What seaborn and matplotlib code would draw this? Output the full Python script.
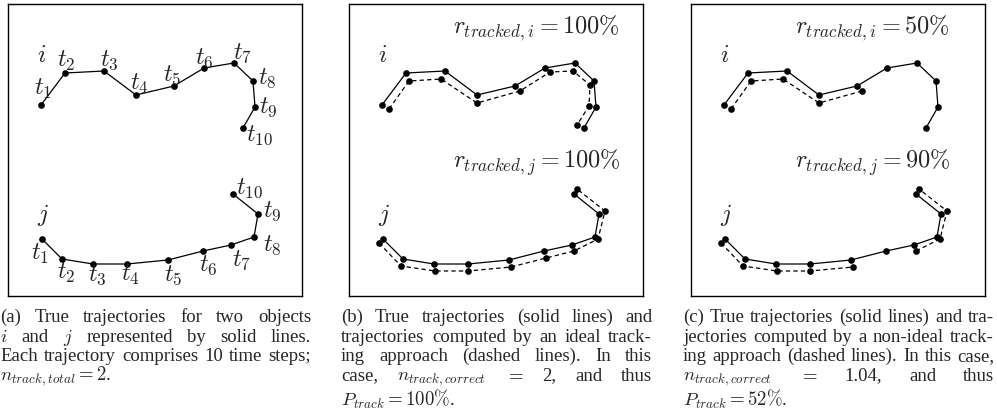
import numpy as np
import matplotlib
matplotlib.use("Agg")
import matplotlib.pyplot as plt
import seaborn as sns

# trajectory coordinates (pixels inside each box, y down)
true_i_x = [33, 57, 96, 128, 166, 196, 226, 245, 247, 235]
true_i_y = [101, 69, 67, 91, 82, 64, 59, 77, 103, 124]
true_j_x = [34, 54, 85, 119, 160, 195, 223, 246, 250, 225]
true_j_y = [235, 255, 260, 260, 256, 247, 241, 233, 210, 190]

ideal_i_x = [40, 60, 92, 128, 171, 201, 224, 241, 240, 228]
ideal_i_y = [105, 77, 75, 99, 87, 68, 67, 81, 102, 121]
ideal_j_x = [30, 52, 86, 119, 162, 197, 225, 249, 256, 228]
ideal_j_y = [239, 262, 267, 267, 263, 254, 247, 235, 207, 185]

# non-ideal tracker: i lost after t5, j misses t6
nonideal_i_x = [40, 60, 92, 128, 171, np.nan, np.nan, np.nan, np.nan, np.nan]
nonideal_i_y = [105, 77, 75, 99, 87, np.nan, np.nan, np.nan, np.nan, np.nan]
nonideal_j_x = [30, 52, 86, 119, 162, np.nan, 225, 249, 256, 228]
nonideal_j_y = [239, 262, 267, 267, 263, np.nan, 247, 235, 207, 185]

time_labels = [r'$t_{%d}$' % k for k in range(1, 11)]
label_i_pos = [(35, 85), (58, 57), (101, 56), (131, 80), (164, 71),
               (196, 54), (235, 49), (259, 74), (260, 103), (252, 131)]
label_j_pos = [(32, 250), (58, 269), (89, 271), (122, 271), (165, 271),
               (200, 261), (234, 256), (264, 241), (264, 207), (242, 184)]

rates_b = [r'$r_{tracked,i}=100\%$', r'$r_{tracked,j}=100\%$']
rates_c = [r'$r_{tracked,i}=50\%$', r'$r_{tracked,j}=90\%$']

captions = [
    ["(a) True trajectories for two objects",
     "$i$ and $j$ represented by solid lines.",
     "Each trajectory comprises 10 time steps;",
     "$n_{track,total}=2$."],
    ["(b) True trajectories (solid lines) and",
     "trajectories computed by an ideal track-",
     "ing approach (dashed lines). In this",
     "case, $n_{track,correct}$ $=$ 2, and thus",
     r"$P_{track}=100\%$."],
    ["(c) True trajectories (solid lines) and tra-",
     "jectories computed by a non-ideal track-",
     "ing approach (dashed lines). In this case,",
     "$n_{track,correct}$ $=$ 1.04, and thus",
     r"$P_{track}=52\%$."],
]

sns.set_theme(style="white")
plt.rcParams['font.family'] = ['Liberation Serif', 'DejaVu Serif']
plt.rcParams['mathtext.fontset'] = 'cm'

W, H = 997, 419
fig = plt.figure(figsize=(W / 100, H / 100), dpi=100)

box_left = [8, 349, 691]
box_w, box_h, box_top = 294, 292, 4
IN_FS = 17.5


def draw_path(ax, xs, ys, dashed=False):
    xs = np.asarray(xs, float)
    ys = np.asarray(ys, float)
    ok = ~np.isnan(xs)
    seg = np.cumsum(~ok)
    for s in np.unique(seg[ok]):
        m = ok & (seg == s)
        sns.lineplot(x=xs[m], y=ys[m], sort=False, estimator=None, ax=ax,
                     color='black', lw=0.9,
                     linestyle=(0, (3.5, 2.5)) if dashed else '-',
                     marker='o', markersize=4.8, markeredgewidth=0)


axes = []
for left in box_left:
    ax = fig.add_axes([left / W, 1 - (box_top + box_h) / H, box_w / W, box_h / H])
    ax.set_xlim(0, box_w)
    ax.set_ylim(box_h, 0)
    ax.set_xticks([])
    ax.set_yticks([])
    for sp in ax.spines.values():
        sp.set_color('black')
        sp.set_linewidth(1.0)
    axes.append(ax)

for ax in axes:
    draw_path(ax, true_i_x, true_i_y)
    draw_path(ax, true_j_x, true_j_y)
    ax.text(34, 53, '$i$', fontsize=IN_FS, ha='center', va='center')
    ax.text(35, 211, '$j$', fontsize=IN_FS, ha='center', va='center')
    ax.set_xlabel('')
    ax.set_ylabel('')

for lab, (x, y) in zip(time_labels, label_i_pos):
    axes[0].text(x, y, lab, fontsize=IN_FS, ha='center', va='center')
for lab, (x, y) in zip(time_labels, label_j_pos):
    axes[0].text(x, y, lab, fontsize=IN_FS, ha='center', va='center')

draw_path(axes[1], ideal_i_x, ideal_i_y, dashed=True)
draw_path(axes[1], ideal_j_x, ideal_j_y, dashed=True)
draw_path(axes[2], nonideal_i_x, nonideal_i_y, dashed=True)
draw_path(axes[2], nonideal_j_x, nonideal_j_y, dashed=True)

for ax, rates in zip(axes[1:], [rates_b, rates_c]):
    ax.text(104, 24, rates[0], fontsize=IN_FS, ha='left', va='center')
    ax.text(104, 159, rates[1], fontsize=IN_FS, ha='left', va='center')

# captions, justified like the LaTeX original
FS = 13.5
LINE = 19.5
fig.canvas.draw()
renderer = fig.canvas.get_renderer()
space = fig.text(0, 0, 'a a', fontsize=FS)
nospace = fig.text(0, 0, 'aa', fontsize=FS)
space_w = space.get_window_extent(renderer).width - nospace.get_window_extent(renderer).width
space.remove()
nospace.remove()

for left, lines in zip(box_left, captions):
    x0, x1 = left - 8, left + box_w + 9
    for k, line in enumerate(lines):
        last = k == len(lines) - 1
        words = line.split(' ')
        yb = 322 + k * LINE + (6 if last and k == 4 else 0)
        texts = [fig.text(0, 1 - yb / H, w, fontsize=FS, ha='left', va='baseline')
                 for w in words]
        widths = [t.get_window_extent(renderer).width for t in texts]
        if last or len(words) == 1:
            gap = space_w
        else:
            gap = max((x1 - x0 - sum(widths)) / (len(words) - 1), 0.5 * space_w)
        x = x0
        for t, w in zip(texts, widths):
            t.set_x(x / W)
            x += w + gap

fig.savefig('out.png', dpi=100)
